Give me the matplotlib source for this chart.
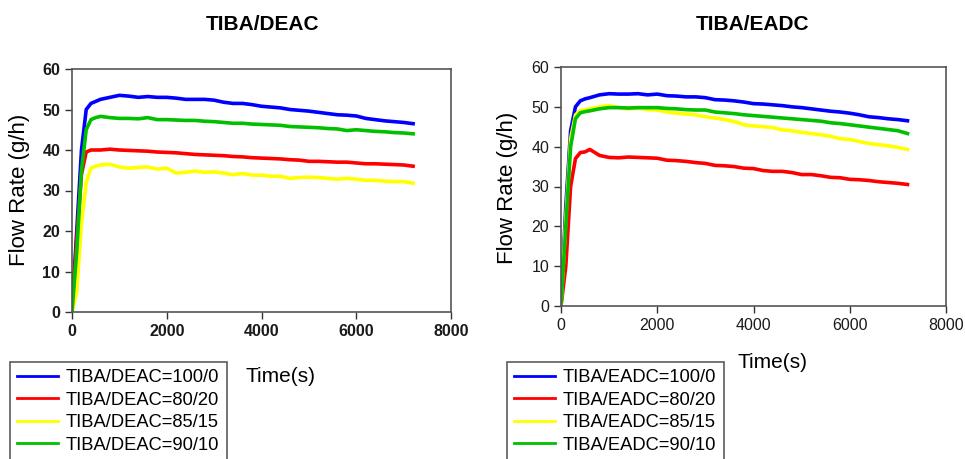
import matplotlib
matplotlib.use("Agg")
import matplotlib.pyplot as plt

plt.rcParams['font.family'] = ['Liberation Sans', 'DejaVu Sans']

time_s = [0, 100, 200, 300, 400, 500, 600, 800, 1000, 1200, 1400, 1600, 1800, 2000,
          2200, 2400, 2600, 2800, 3000, 3200, 3400, 3600, 3800, 4000, 4200, 4400,
          4600, 4800, 5000, 5200, 5400, 5600, 5800, 6000, 6200, 6400, 6600, 6800,
          7000, 7200]

deac_100_0 = [0, 20, 40, 50, 51.5, 52, 52.5, 53, 53.5, 53.3, 53, 53.2, 53, 53, 52.8, 52.5,
              52.5, 52.5, 52.3, 51.8, 51.5, 51.5, 51.2, 50.8, 50.6, 50.4, 50, 49.8, 49.6,
              49.3, 49, 48.7, 48.6, 48.4, 47.8, 47.5, 47.2, 47, 46.8, 46.5]
deac_80_20 = [0, 18, 34, 39.5, 40, 40, 40, 40.2, 40, 39.9, 39.8, 39.7, 39.5, 39.4, 39.3,
              39.1, 38.9, 38.8, 38.7, 38.6, 38.4, 38.3, 38.1, 38, 37.9, 37.8, 37.6, 37.5,
              37.2, 37.2, 37.1, 37, 37, 36.8, 36.6, 36.6, 36.5, 36.4, 36.3, 36]
deac_85_15 = [0, 5, 22, 32, 35.5, 36, 36.3, 36.5, 35.8, 35.5, 35.7, 35.8, 35.3, 35.5, 34.3,
              34.5, 34.8, 34.5, 34.6, 34.3, 33.9, 34.2, 33.8, 33.8, 33.5, 33.5, 33, 33.2,
              33.3, 33.2, 33, 32.8, 33, 32.8, 32.5, 32.5, 32.3, 32.2, 32.2, 31.8]
deac_90_10 = [0, 15, 35, 45, 47.5, 48, 48.3, 48, 47.8, 47.8, 47.7, 48, 47.5, 47.5, 47.4,
              47.3, 47.3, 47.1, 47, 46.8, 46.6, 46.6, 46.4, 46.3, 46.2, 46.1, 45.8, 45.7,
              45.6, 45.5, 45.3, 45.2, 44.8, 45, 44.8, 44.6, 44.5, 44.3, 44.2, 44]

eadc_100_0 = [0, 25, 44, 50, 51.5, 52, 52.3, 53, 53.3, 53.2, 53.2, 53.3, 53, 53.2, 52.8,
              52.7, 52.5, 52.5, 52.3, 51.8, 51.7, 51.5, 51.2, 50.8, 50.7, 50.5, 50.3, 50,
              49.8, 49.5, 49.2, 48.9, 48.7, 48.4, 48, 47.5, 47.3, 47, 46.8, 46.5]
eadc_80_20 = [0, 10, 30, 37, 38.5, 38.7, 39.3, 37.8, 37.3, 37.2, 37.4, 37.3, 37.2, 37.1,
              36.6, 36.5, 36.3, 36, 35.8, 35.3, 35.2, 35, 34.6, 34.5, 34, 33.8, 33.8, 33.5,
              33, 33, 32.7, 32.3, 32.2, 31.8, 31.7, 31.5, 31.2, 31, 30.8, 30.5]
eadc_85_15 = [0, 22, 42, 48, 49, 49.3, 49.5, 50, 50.3, 49.8, 49.5, 49.7, 49.3, 49.2, 48.7,
              48.4, 48.2, 48, 47.5, 47.2, 46.8, 46.3, 45.5, 45.2, 45, 44.8, 44.2, 44, 43.6,
              43.3, 43, 42.6, 42, 41.8, 41.3, 40.8, 40.5, 40.2, 39.8, 39.3]
eadc_90_10 = [0, 20, 40, 47, 48.5, 48.8, 49, 49.5, 49.8, 49.8, 49.7, 49.8, 49.8, 49.8, 49.6,
              49.5, 49.3, 49.2, 49.2, 48.7, 48.5, 48.3, 48, 47.8, 47.6, 47.4, 47.2, 47,
              46.8, 46.6, 46.4, 46, 45.8, 45.5, 45.2, 44.9, 44.6, 44.3, 44, 43.3]

ratios = ["100/0", "80/20", "85/15", "90/10"]
colors = ["#0000ff", "#ff0000", "#ffff00", "#00c000"]
y_ticks = [0, 10, 20, 30, 40, 50, 60]
x_ticks = [0, 2000, 4000, 6000, 8000]

W, H = 965, 459
fig = plt.figure(figsize=(W / 100, H / 100), dpi=100)


def px_axes(x0, y0, x1, y1):
    return fig.add_axes([x0 / W, 1 - y1 / H, (x1 - x0) / W, (y1 - y0) / H])


panels = [
    dict(name="DEAC", series=[deac_100_0, deac_80_20, deac_85_15, deac_90_10],
         box=(72, 69, 451, 312), bold=True, title_xy=(263, 25), ylab_xy=(20, 190),
         xlab_xy=(280, 376), leg_xy=(10, 362)),
    dict(name="EADC", series=[eadc_100_0, eadc_80_20, eadc_85_15, eadc_90_10],
         box=(561, 67, 946, 306), bold=False, title_xy=(753, 25), ylab_xy=(508, 188),
         xlab_xy=(772, 363), leg_xy=(507, 362)),
]

for p in panels:
    ax = px_axes(*p["box"])
    for vals, r, c in zip(p["series"], ratios, colors):
        ax.plot(time_s, vals, color=c, lw=2.6, label=f"TIBA/{p['name']}={r}")
    ax.set_xlim(0, 8000)
    ax.set_ylim(0, 60)
    ax.set_xticks(x_ticks)
    ax.set_yticks(y_ticks)
    fw = 'bold' if p["bold"] else 'normal'
    ax.tick_params(direction='out', length=5, width=1, color='#333333',
                   labelsize=11.5, labelcolor='#1a1a1a')
    for lab in ax.get_xticklabels() + ax.get_yticklabels():
        lab.set_fontweight(fw)
    for s in ax.spines.values():
        s.set_color('#555555')
        s.set_linewidth(1.2)
    tx, ty = p["title_xy"]
    fig.text(tx / W, 1 - ty / H, f"TIBA/{p['name']}", ha='center', va='center',
             fontsize=15, fontweight='bold')
    lx, ly = p["ylab_xy"]
    fig.text(lx / W, 1 - ly / H, "Flow Rate (g/h)", ha='center', va='center',
             rotation=90, fontsize=16)
    xx, xy = p["xlab_xy"]
    fig.text(xx / W, 1 - xy / H, "Time(s)", ha='center', va='center', fontsize=15)
    gx, gy = p["leg_xy"]
    leg = ax.legend(loc='upper left', bbox_to_anchor=(gx / W, 1 - gy / H),
                    bbox_transform=fig.transFigure, fontsize=13.2, frameon=True,
                    fancybox=False, edgecolor='#333333', handlelength=2.2,
                    handletextpad=0.45, labelspacing=0.3, borderpad=0.4,
                    borderaxespad=0)
    leg.get_frame().set_linewidth(1.2)
    for line in leg.get_lines():
        line.set_linewidth(2.0)

fig.savefig("out.png", dpi=100)
